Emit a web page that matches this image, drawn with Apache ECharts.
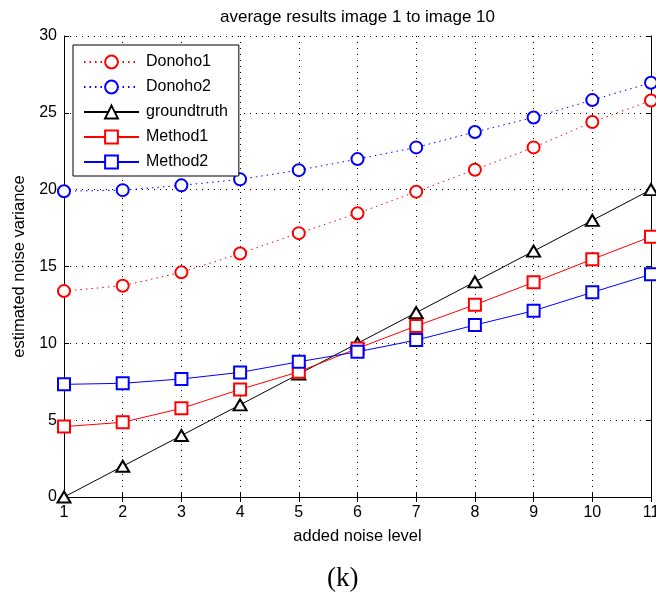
<!DOCTYPE html>
<html>
<head>
<meta charset="utf-8">
<script src="https://cdn.jsdelivr.net/npm/echarts@6/dist/echarts.min.js"></script>
<style>
html,body{margin:0;padding:0;background:#fff;}
#c{width:656px;height:592px;}
</style>
</head>
<body>
<div id="c"></div>
<script>
const xLevels = [1,2,3,4,5,6,7,8,9,10,11];
const donoho1 = [13.4,13.75,14.62,15.85,17.17,18.46,19.87,21.3,22.75,24.4,25.8];
const donoho2 = [19.9,19.97,20.28,20.67,21.27,21.99,22.75,23.75,24.7,25.83,26.96];
const groundtruth = [0,2,4,6,8,10,12,14,16,18,20];
const method1 = [4.58,4.86,5.77,7.0,8.15,9.67,11.13,12.51,13.97,15.47,16.94];
const method2 = [7.33,7.4,7.68,8.11,8.8,9.45,10.21,11.19,12.12,13.32,14.49];
const titleText = 'average results image 1 to image 10';
const xName = 'added noise level';
const yName = 'estimated noise variance';
const caption = '(k)';

const pair = (ys) => xLevels.map((x,i)=>[x, ys[i]]);
const font = 'Liberation Sans, Arial, sans-serif';
const chart = echarts.init(document.getElementById('c'), null, {renderer:'canvas'});

function mk(name, data, color, dashed, symbol, size){
  return {
    name, type:'line', data: pair(data),
    symbol, symbolSize: size, showSymbol:true,
    lineStyle:{color, width:1, type: dashed ? [1.5,4] : 'solid'},
    itemStyle:{color, borderColor:color, borderWidth:1},
    emphasis:{disabled:true}, animation:false, z: 3
  };
}

chart.setOption({
  animation:false,
  backgroundColor:'#fff',
  title:[
    {text:titleText, left:220, top:9, padding:0, textStyle:{fontFamily:font, fontSize:17, fontWeight:'normal', color:'#000'}},
    {text:caption, left:327, top:565, padding:0, textStyle:{fontFamily:'Liberation Serif, Times New Roman, serif', fontSize:27, fontWeight:'normal', color:'#000'}}
  ],
  grid:{left:64, right:5, top:36, bottom:95, containLabel:false, outerBoundsMode:'none'},
  legend:{
    orient:'vertical', left:73, top:45,
    padding:[9,11,6,10], itemGap:9, itemWidth:55, itemHeight:16,
    backgroundColor:'#fff', borderColor:'#000', borderWidth:1,
    textStyle:{fontFamily:font, fontSize:16, color:'#000', lineHeight:16, padding:[0,0,0,2]},
    data:['Donoho1','Donoho2','groundtruth','Method1','Method2']
  },
  xAxis:[
    {type:'value', min:1, max:11, interval:1, position:'bottom',
     name:xName, nameLocation:'middle', nameGap:31,
     nameTextStyle:{fontFamily:font, fontSize:16.5, color:'#000'},
     axisLine:{lineStyle:{color:'#000', width:1}},
     axisTick:{inside:true, length:5, lineStyle:{color:'#000'}},
     axisLabel:{fontFamily:font, fontSize:16, color:'#000', margin:8},
     splitLine:{show:true, lineStyle:{color:'#000', type:[1,5], width:1}}},
    {type:'value', min:1, max:11, interval:1, position:'top',
     axisLine:{lineStyle:{color:'#000', width:1}},
     axisTick:{inside:true, length:5, lineStyle:{color:'#000'}},
     axisLabel:{show:false}, splitLine:{show:false}}
  ],
  yAxis:[
    {type:'value', min:0, max:30, interval:5, position:'left',
     name:yName, nameLocation:'middle', nameGap:32, nameRotate:90,
     nameTextStyle:{fontFamily:font, fontSize:16.5, color:'#000'},
     axisLine:{show:true, lineStyle:{color:'#000', width:1}},
     axisTick:{show:true, inside:true, length:5, lineStyle:{color:'#000'}},
     axisLabel:{fontFamily:font, fontSize:16, color:'#000', margin:7},
     splitLine:{show:true, lineStyle:{color:'#000', type:[1,5], width:1}}},
    {type:'value', min:0, max:30, interval:5, position:'right',
     axisLine:{show:true, lineStyle:{color:'#000', width:1}},
     axisTick:{show:true, inside:true, length:5, lineStyle:{color:'#000'}},
     axisLabel:{show:false}, splitLine:{show:false}}
  ],
  series:[
    mk('Donoho1', donoho1, '#ff0000', true, 'emptyCircle', 12),
    mk('Donoho2', donoho2, '#0000ff', true, 'emptyCircle', 12),
    mk('groundtruth', groundtruth, '#000000', false, 'emptyTriangle', [13,11]),
    mk('Method1', method1, '#ff0000', false, 'emptyRect', 12),
    mk('Method2', method2, '#0000ff', false, 'emptyRect', 12)
  ]
});
</script>
</body>
</html>
